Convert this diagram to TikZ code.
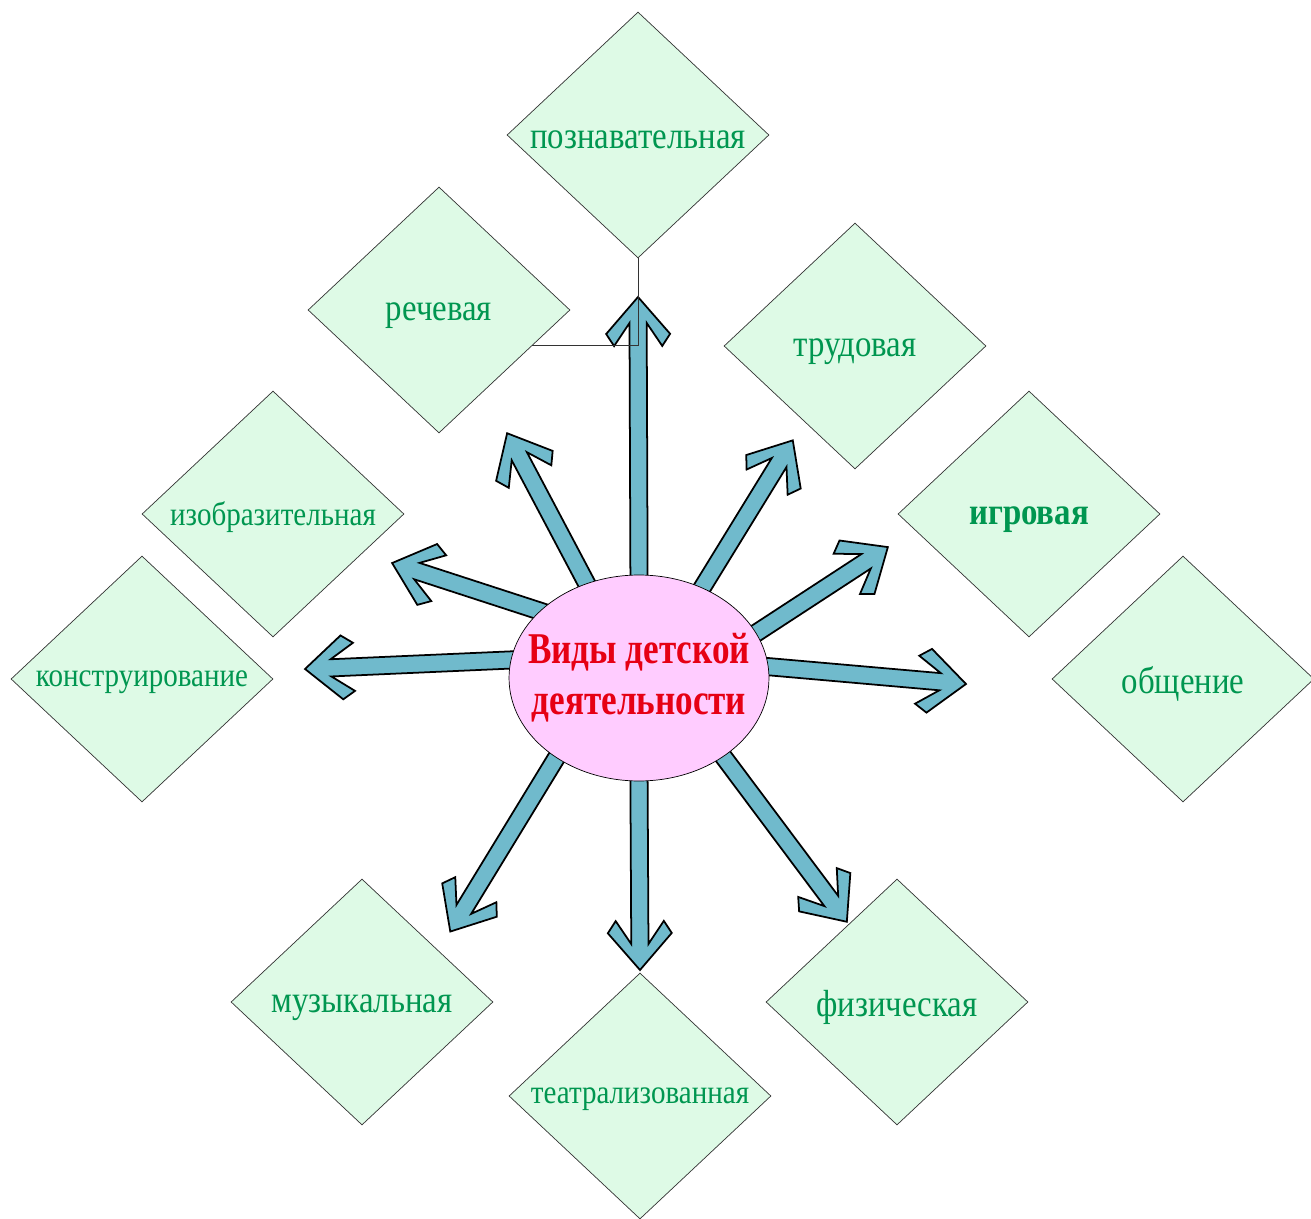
\documentclass[tikz,border=0pt]{standalone}
\usepackage{fontspec}
\setmainfont{Liberation Serif}
\usetikzlibrary{shapes.geometric,backgrounds}
\definecolor{kidgreen}{RGB}{0,150,80}
\definecolor{kidfill}{RGB}{222,250,230}
\definecolor{kidpink}{RGB}{255,204,255}
\definecolor{kidblue}{RGB}{112,186,204}
\definecolor{kidred}{RGB}{230,0,20}
\newcommand{\squeeze}[1]{\scalebox{0.87}[1]{#1}}
\tikzset{
  kind/.style={diamond, draw=black!80, fill=kidfill, minimum width=5.24cm, minimum height=4.92cm, inner sep=0pt},
  kindtext/.style={text=kidgreen, yshift=-3pt, font=\fontsize{21.5}{24}\selectfont},
  kindsmall/.style={text=kidgreen, yshift=-2pt, font=\fontsize{19}{22}\selectfont},
  centretext/.style={text=kidred, align=center, font=\bfseries\fontsize{25}{29}\selectfont},
  blockarrow/.style={fill=kidblue, draw=black, line width=1pt, line join=miter}
}
% block arrow from #1 to #2
\newcommand{\kidarrow}[2]{%
  \path (#1); \pgfgetlastxy{\kax}{\kay}%
  \path (#2); \pgfgetlastxy{\kbx}{\kby}%
  \pgfmathsetmacro{\kang}{atan2(\kby-\kay,\kbx-\kax)}%
  \pgfmathsetmacro{\klen}{veclen(\kbx-\kax,\kby-\kay)}%
  \begin{scope}[shift={(\kax,\kay)},rotate=\kang]
    \filldraw[blockarrow] (-12pt,-4.9pt) -- ({\klen pt-14.8pt},-4.9pt) -- ({\klen pt-27.9pt},-13.7pt)
      -- ({\klen pt-21pt},-18.2pt) -- (\klen pt,0pt) -- ({\klen pt-21pt},18.2pt)
      -- ({\klen pt-27.9pt},13.7pt) -- ({\klen pt-14.8pt},4.9pt) -- (-12pt,4.9pt) -- cycle;
  \end{scope}}

\begin{document}
\begin{tikzpicture}[x=0.02cm,y=-0.02cm]
\useasboundingbox (0,0) rectangle (1311,1219);

\node[ellipse, draw=black, fill=kidpink, minimum width=5.2cm, minimum height=4.12cm, inner sep=0pt,
  label={[centretext]center:{\scalebox{0.8}[1]{Виды детской}\\\scalebox{0.8}[1]{деятельности}}}] (centre) at (639,678) {};

\begin{scope}[on background layer]
% the kinds
\node[kind, label={[kindtext]center:\squeeze{познавательная}}] (pozn) at (638,135) {};
\node[kind, label={[kindtext]center:\squeeze{речевая}}] (rech) at (439,310) {};
\node[kind, label={[kindtext]center:\squeeze{трудовая}}] (trud) at (855,346) {};
\node[kind, label={[kindtext,font=\bfseries\fontsize{21.5}{24}\selectfont]center:\squeeze{игровая}}] (igr) at (1029,514) {};
\node[kind, label={[kindtext]center:\squeeze{общение}}] (obsh) at (1183,679) {};
\node[kind, label={[kindsmall]center:\squeeze{изобразительная}}] (izo) at (273,514) {};
\node[kind, label={[kindsmall]center:\squeeze{конструирование}}] (kons) at (142,679) {};
\node[kind, label={[kindtext]center:\squeeze{музыкальная}}] (muz) at (362,1002) {};
\node[kind, label={[kindsmall]center:\squeeze{театрализованная}}] (teat) at (640,1096) {};
\node[kind, label={[kindtext]center:\squeeze{физическая}}] (fiz) at (897,1002) {};

% arrow tips
\coordinate (tpozn) at (638,297);
\coordinate (trech) at (507,433);
\coordinate (ttrud) at (793,440);
\coordinate (tigr) at (888,547);
\coordinate (tobsh) at (966,684);
\coordinate (tizo) at (392,563);
\coordinate (tkons) at (305,669);
\coordinate (tmuz) at (450,932);
\coordinate (tteat) at (640,970);
\coordinate (tfiz) at (847,922);

\foreach \ang/\tip in {90/tpozn, 119/trech, 55/ttrud, 21/tigr, 5/tobsh, 146/tizo, 172/tkons, 224/tmuz, 270/tteat, 317/tfiz}
  \kidarrow{centre.\ang}{\tip};
\end{scope}

\draw[black!80] (rech.339) -| (pozn.south);
\end{tikzpicture}
\end{document}
